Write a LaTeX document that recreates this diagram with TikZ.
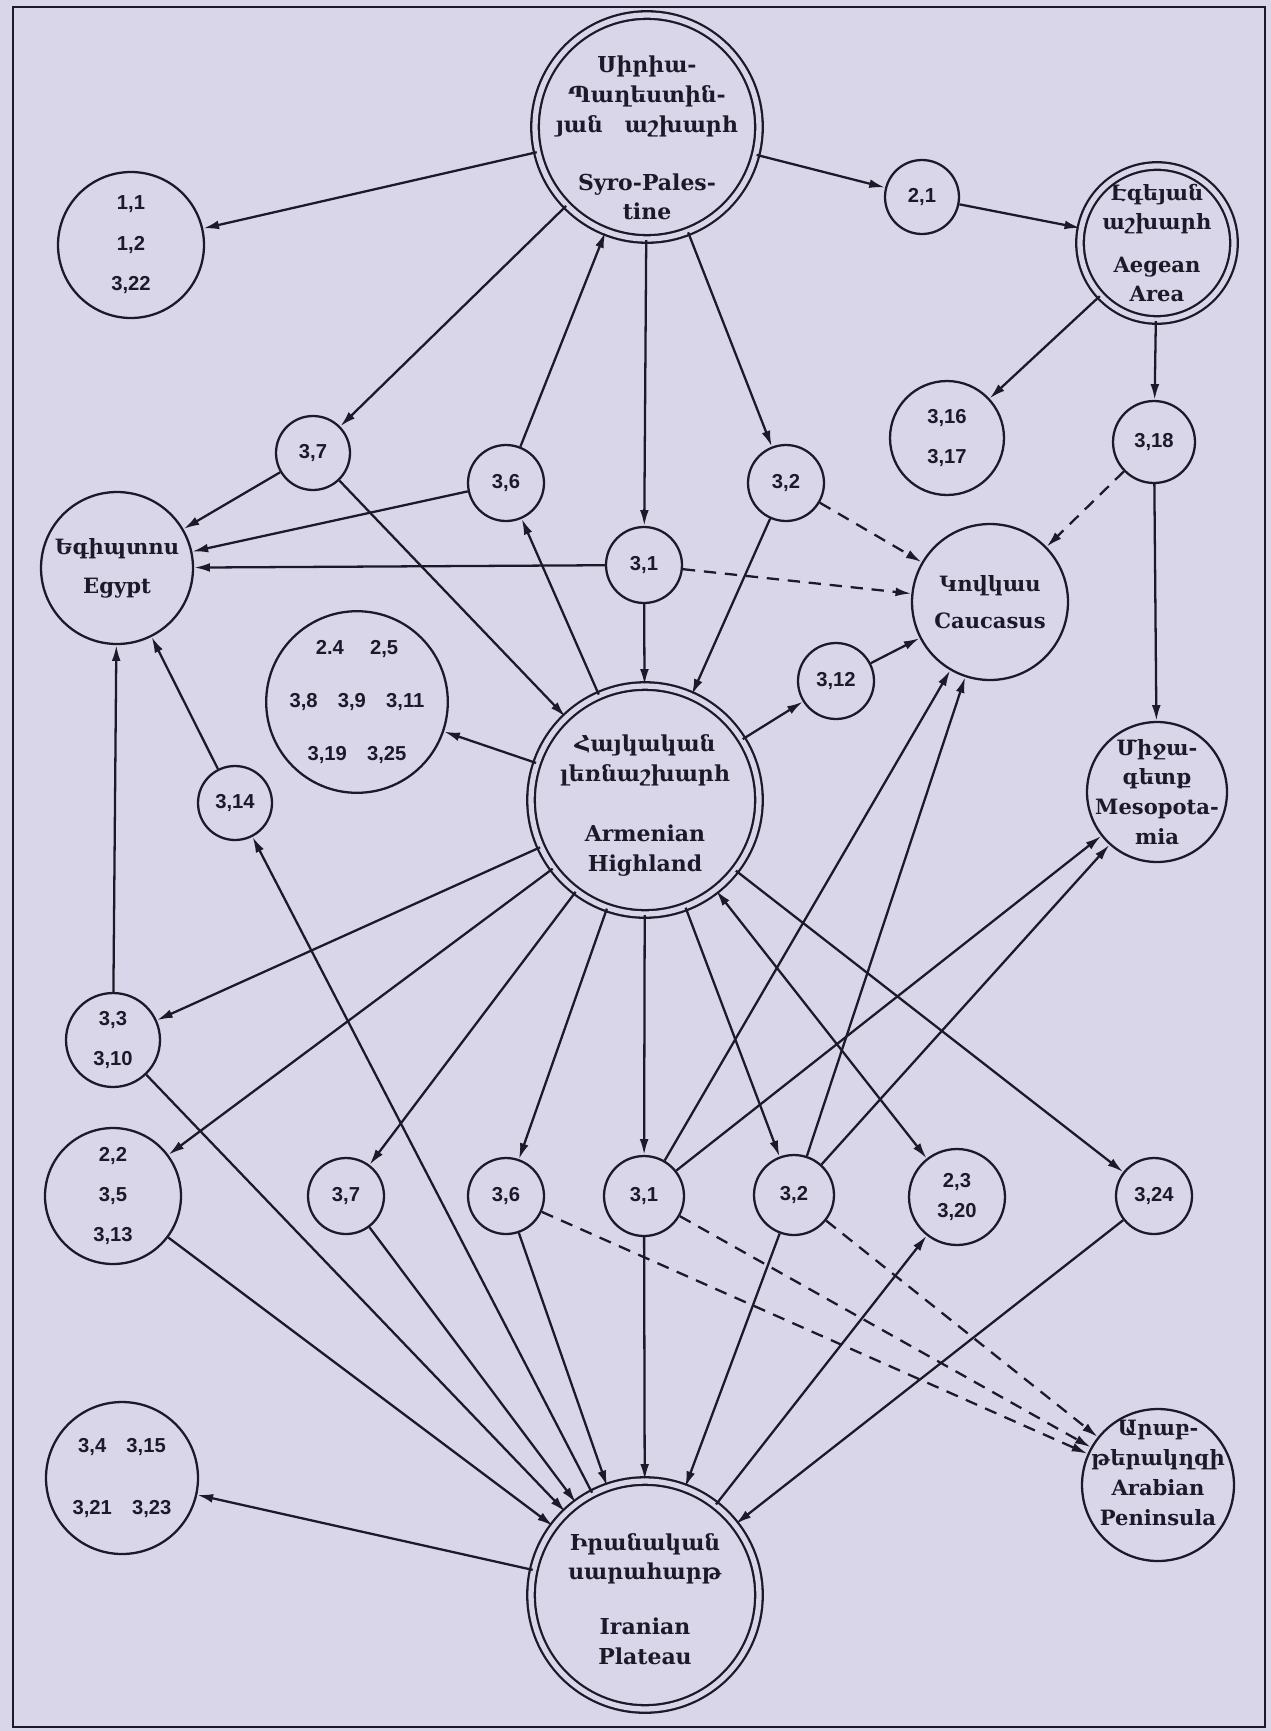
\documentclass[tikz,border=0pt]{standalone}
\usepackage{fontspec}
\setmainfont{DejaVu Serif}
\newfontfamily\numfont{Liberation Sans}
\usetikzlibrary{arrows.meta}
\definecolor{paper}{RGB}{218,214,234}
\definecolor{ink}{RGB}{28,26,40}

\begin{document}
\begin{tikzpicture}[x=0.02cm,y=-0.02cm,line width=1.3pt,ink,
  every node/.style={circle,draw,inner sep=0pt,align=center},
  num/.style={font=\numfont\bfseries\fontsize{11.5}{23}\selectfont},
  area/.style={font=\bfseries\fontsize{12}{17}\selectfont,inner sep=-14pt},
  big/.style={area,font=\bfseries\fontsize{12.5}{17}\selectfont,double=paper,double distance=3pt,inner sep=-25pt},
  arr/.style={-{Latex[length=9pt,width=5pt]}},
  both/.style={{Latex[length=9pt,width=5pt]}-{Latex[length=9pt,width=5pt]}},
  darr/.style={arr,dash pattern=on 7pt off 5pt}]

\useasboundingbox (0,0) rectangle (1271,1731);
\fill[paper] (0,0) rectangle (1271,1731);
\draw[line width=1.6pt] (13,7) rectangle (1265,1727);

% regions
\node[big,minimum size=4.48cm] (sp) at (647,127) {\rule{0pt}{22pt}Սիրիա-\\Պաղեստին-\\յան\quad աշխարհ\\[16pt]Syro-Pales-\\tine};
\node[big,minimum size=3.08cm,font=\bfseries\fontsize{12}{16}\selectfont] (aeg) at (1157,243) {Էգեյան\\աշխարհ\\[9pt]Aegean\\Area};
\node[area,minimum size=3.04cm] (egy) at (117,568) {Եգիպտոս\\[5pt]Egypt};
\node[area,minimum size=3.12cm] (cau) at (990,602) {Կովկաս\\[4pt]Caucasus};
\node[big,minimum size=4.56cm] (arm) at (645,800) {\rule{0pt}{16pt}Հայկական\\լեռնաշխարհ\\[17pt]Armenian\\Highland};
\node[area,minimum size=2.8cm] (mes) at (1157,792) {Միջա-\\գետք\\Mesopota-\\mia};
\node[area,minimum size=3.04cm] (arab) at (1158,1485) {Արաբ-\\թերակղզի\\Arabian\\Peninsula\rule[-14pt]{0pt}{0pt}};
\node[big,minimum size=4.56cm] (iran) at (645,1595) {\rule{0pt}{14pt}Իրանական\\սարահարթ\\[14pt]Iranian\\Plateau};

% sources
\node[num,minimum size=2.92cm] (n11) at (131,245) {1,1\\1,2\\3,22};
\node[num,minimum size=1.48cm] (n21) at (922,197) {2,1};
\node[num,minimum size=2.28cm] (n316) at (947,438) {3,16\\3,17};
\node[num,minimum size=1.64cm] (n318) at (1154,442) {3,18};
\node[num,minimum size=1.48cm] (t37) at (313,453) {3,7};
\node[num,minimum size=1.52cm] (t36) at (506,483) {3,6};
\node[num,minimum size=1.52cm] (t32) at (786,483) {3,2};
\node[num,minimum size=1.52cm] (t31) at (644,565) {3,1};
\node[num,minimum size=3.48cm] (multi) at (357,702) {2.4\hspace{1.3em}2,5\\[7pt]3,8\hspace{1em}3,9\hspace{1em}3,11\\[7pt]3,19\hspace{1em}3,25};
\node[num,minimum size=1.52cm] (n312) at (836,681) {3,12};
\node[num,minimum size=1.48cm] (n314) at (235,803) {3,14};
\node[num,minimum size=1.88cm] (n33) at (113,1040) {3,3\\3,10};
\node[num,minimum size=2.72cm] (n22) at (113,1196) {2,2\\3,5\\3,13};
\node[num,minimum size=1.52cm] (b37) at (346,1196) {3,7};
\node[num,minimum size=1.52cm] (b36) at (506,1196) {3,6};
\node[num,minimum size=1.6cm] (b31) at (644,1196) {3,1};
\node[num,minimum size=1.6cm] (b32) at (794,1195) {3,2};
\node[num,minimum size=1.92cm] (n23) at (957,1197) {2,3\\[-6pt]3,20};
\node[num,minimum size=1.52cm] (n324) at (1154,1196) {3,24};
\node[num,minimum size=3.04cm] (n34) at (122,1478) {3,4\hspace{1em}3,15\\[12pt]3,21\hspace{1em}3,23};

% Syro-Palestine
\draw[arr] (sp) -- (n11);
\draw[arr] (sp) -- (n21);
\draw[arr] (n21) -- (aeg);
\draw[arr] (sp) -- (t37);
\draw[arr] (t36) -- (sp);
\draw[arr] (sp) -- (t31);
\draw[arr] (sp) -- (t32);

% Aegean
\draw[arr] (aeg) -- (n316);
\draw[arr] (aeg) -- (n318);
\draw[arr] (n318) -- (mes);
\draw[darr] (n318) -- (cau);

% upper row
\draw[arr] (t37) -- (egy);
\draw[arr] (t37) -- (arm);
\draw[arr] (t36) -- (egy);
\draw[arr] (arm) -- (t36);
\draw[arr] (t31) -- (egy);
\draw[arr] (t31) -- (arm);
\draw[darr] (t31) -- (cau);
\draw[arr] (t32) -- (arm);
\draw[darr] (t32) -- (cau);

% Armenian Highland
\draw[arr] (arm) -- (multi);
\draw[arr] (arm) -- (n312);
\draw[arr] (n312) -- (cau);
\draw[arr] (arm) -- (n33);
\draw[arr] (arm) -- (n22);
\draw[arr] (arm) -- (b37);
\draw[arr] (arm) -- (b36);
\draw[arr] (arm) -- (b31);
\draw[arr] (arm) -- (b32);
\draw[both] (arm) -- (n23);
\draw[arr] (arm) -- (n324);

% left side
\draw[arr] (n33) -- (egy);
\draw[arr] (n314) -- (egy);
\draw[arr] (iran) -- (n314);

% Iranian Plateau
\draw[arr] (n33) -- (iran);
\draw[arr] (n22) -- (iran);
\draw[arr] (b37) -- (iran);
\draw[arr] (b36) -- (iran);
\draw[arr] (b31) -- (iran);
\draw[arr] (b32) -- (iran);
\draw[arr] (n324) -- (iran);
\draw[arr] (iran) -- (n23);
\draw[arr] (iran) -- (n34);

% lower row
\draw[arr] (b31) -- (cau);
\draw[arr] (b31) -- (mes);
\draw[arr] (b32) -- (cau);
\draw[arr] (b32) -- (mes);
\draw[darr] (b36) -- (arab);
\draw[darr] (b31) -- (arab);
\draw[darr] (b32) -- (arab);

\end{tikzpicture}
\end{document}
